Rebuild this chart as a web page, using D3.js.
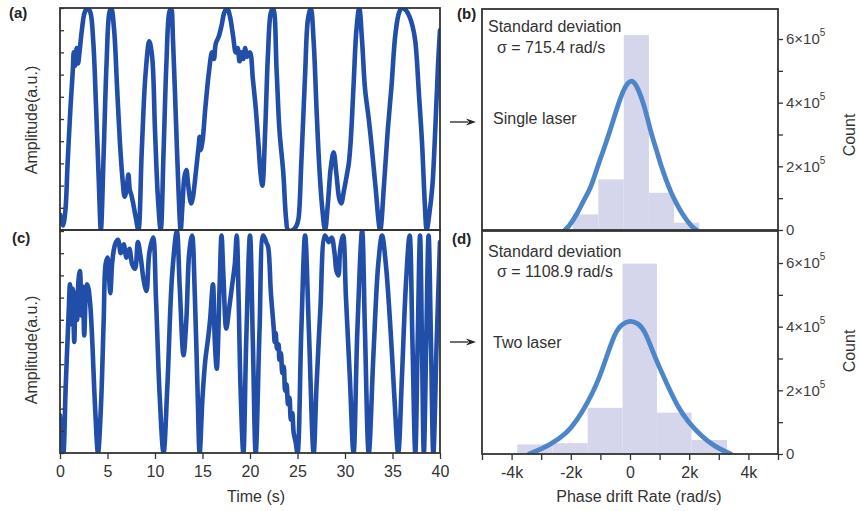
<!DOCTYPE html>
<html><head><meta charset="utf-8">
<script src="https://cdn.jsdelivr.net/npm/d3@7"></script>
<style>body{margin:0;background:#fff} text{font-family:"Liberation Sans",Arial,sans-serif;fill:#333}</style>
</head><body><svg id="chart" width="859" height="511"></svg>
<script>
// ---- (a) single laser interference trace ----
const timeA = [0,0.3,0.55,0.8,1.1,1.35,1.45,1.6,1.75,1.9,2.05,2.3,2.6,2.9,3.2,3.5,3.8,4.1,4.3,4.6,4.9,5.2,5.4,5.7,6.0,6.3,6.6,6.8,7.0,7.2,7.35,7.5,7.7,8.0,8.25,8.6,9.0,9.4,9.7,10.0,10.3,10.6,10.9,11.2,11.5,11.7,11.9,12.2,12.5,12.7,12.9,13.1,13.3,13.5,13.8,14.0,14.2,14.4,14.6,14.7,14.8,15.0,15.3,15.7,16.0,16.2,16.4,16.7,17.0,17.3,17.6,17.9,18.2,18.5,18.7,18.9,19.1,19.3,19.5,19.7,20.0,20.3,20.6,20.9,21.1,21.3,21.6,21.9,22.2,22.45,22.8,23.1,23.5,23.8,24.0,24.5,24.9,25.1,25.4,25.8,26.1,26.4,26.7,27.0,27.3,27.6,27.9,28.2,28.5,28.8,29.1,29.4,29.6,29.9,30.2,30.4,30.6,30.9,31.2,31.5,31.8,32.1,32.5,32.8,33.2,33.7,34.1,34.5,34.9,35.3,35.7,36.0,36.4,36.8,37.1,37.4,37.8,38.1,38.4,38.6,38.9,39.2,39.5,39.8,40.0];
const ampA  = [0.07,0.02,0.08,0.30,0.55,0.72,0.80,0.74,0.82,0.75,0.80,0.90,0.98,1.0,0.98,0.85,0.55,0.20,0.0,0.35,0.75,0.98,1.0,0.90,0.65,0.40,0.22,0.15,0.18,0.25,0.18,0.16,0.12,0.05,0.0,0.35,0.70,0.85,0.78,0.45,0.15,0.0,0.35,0.75,0.98,1.0,0.85,0.50,0.15,0.0,0.12,0.24,0.27,0.20,0.12,0.15,0.22,0.30,0.38,0.42,0.36,0.40,0.55,0.72,0.80,0.77,0.84,0.87,0.92,0.98,1.0,0.96,0.88,0.80,0.82,0.76,0.80,0.77,0.82,0.78,0.80,0.68,0.55,0.38,0.26,0.20,0.45,0.80,0.98,1.0,0.72,0.45,0.26,0.05,0.0,0.0,0.02,0.05,0.30,0.70,0.95,1.0,0.85,0.55,0.28,0.10,0.0,0.12,0.28,0.35,0.25,0.14,0.12,0.18,0.25,0.30,0.40,0.65,0.90,1.0,0.85,0.64,0.50,0.38,0.20,0.0,0.20,0.45,0.65,0.88,0.98,1.0,0.99,0.96,0.92,0.85,0.60,0.40,0.12,0.0,0.08,0.20,0.45,0.75,0.90];

// ---- (c) two laser interference trace ----
const timeC = [0,0.2,0.35,0.6,0.9,1.05,1.2,1.35,1.5,1.65,1.8,1.95,2.1,2.25,2.4,2.55,2.7,2.85,3.0,3.2,3.4,3.7,4.0,4.3,4.6,4.8,5.0,5.15,5.3,5.5,5.8,6.1,6.4,6.7,7.0,7.3,7.6,7.9,8.2,8.5,8.8,9.1,9.4,9.8,10.1,10.5,10.9,11.3,11.8,12.3,12.6,13.0,13.3,13.6,13.9,14.2,14.5,14.7,15.0,15.3,15.6,15.8,16.1,16.3,16.5,16.8,17.0,17.2,17.5,17.8,18.1,18.4,18.6,18.8,19.0,19.3,19.6,20.0,20.3,20.6,21.0,21.4,21.7,21.9,22.2,22.5,22.6,22.7,22.85,23.0,23.1,23.25,23.4,23.55,23.7,23.85,24.0,24.15,24.3,24.45,24.6,24.8,25.0,25.4,25.8,26.2,26.7,27.0,27.4,27.9,28.3,28.6,28.9,29.1,29.3,29.5,29.8,30.1,30.5,30.9,31.3,31.8,32.1,32.5,33.0,33.5,33.9,34.3,34.8,35.2,35.6,36.0,36.4,36.8,37.1,37.4,37.65,37.9,38.1,38.3,38.55,38.8,39.05,39.3,39.65,40.0];
const ampC  = [0.17,0.05,0.0,0.30,0.62,0.76,0.58,0.74,0.50,0.72,0.60,0.78,0.82,0.62,0.75,0.53,0.70,0.76,0.74,0.66,0.50,0.20,0.0,0.20,0.60,0.85,0.88,0.80,0.72,0.86,0.94,0.96,0.90,0.94,0.88,0.92,0.85,0.83,0.95,0.88,0.78,0.73,0.90,0.97,0.70,0.25,0.0,0.30,0.80,1.0,0.75,0.44,0.60,0.90,0.98,0.70,0.25,0.0,0.25,0.42,0.52,0.60,0.76,0.50,0.38,0.75,0.98,0.80,0.56,0.65,0.75,0.85,0.98,0.70,0.30,0.0,0.50,0.98,0.50,0.0,0.55,0.98,0.95,0.93,0.72,0.56,0.50,0.54,0.47,0.49,0.42,0.45,0.36,0.39,0.28,0.31,0.22,0.25,0.15,0.18,0.09,0.05,0.0,0.55,0.98,0.55,0.0,0.30,0.64,0.98,0.95,0.97,0.90,0.82,0.80,0.92,0.98,0.70,0.35,0.0,0.55,1.0,0.55,0.0,0.45,0.85,0.98,0.85,0.55,0.25,0.0,0.35,0.75,0.98,0.50,0.0,0.50,0.98,0.50,0.0,0.50,0.98,0.50,0.0,0.50,0.95];

// ---- (b) histogram + fit (single laser) ----
const binEdgesB = [-2780,-1930,-1070,-210,640,1490,2340];
const countsB   = [1000,49000,159000,612000,117000,23000];
const fitRateB  = [-2200,-2070,-1800,-1560,-1330,-1100,-900,-710,-530,-360,-150,30,200,430,580,720,900,1060,1250,1400,1510,1740,2080,2250];
const fitCountB = [0,10000,48000,94000,130000,198000,250000,302000,355000,406000,455000,472000,460000,406000,355000,302000,250000,198000,150000,115000,94000,53000,10000,0];

// ---- (d) histogram + fit (two laser) ----
const binEdgesD = [-3810,-2620,-1430,-250,910,2080,3280];
const countsD   = [30000,34000,145000,598000,130000,44000];
const fitRateD  = [-3400,-2700,-2130,-1790,-1450,-1110,-830,-500,-250,0,250,500,880,1270,1610,1960,2410,2860,3400];
const fitCountD = [0,28000,65000,106000,158000,221000,294000,385000,410000,419000,412000,390000,294000,216000,148000,101000,56000,23000,0];

// ---- ticks ----
const timeTicks  = [0,5,10,15,20,25,30,35,40];
const ampTicks   = [0,0.1,0.2,0.3,0.4,0.5,0.6,0.7,0.8,0.9,1.0];
const rateTicks  = [-5000,-4000,-3000,-2000,-1000,0,1000,2000,3000,4000,5000];
const rateLabels = {"-4000":"-4k","-2000":"-2k","0":"0","2000":"2k","4000":"4k"};
const countTicks = [0,100000,200000,300000,400000,500000,600000];
const countLabels = [[0,"0",""],[200000,"2×10","5"],[400000,"4×10","5"],[600000,"6×10","5"]];

const svg = d3.select("#chart");
const frameColor = "#333";
const traceColor = "#214ea8";
const barColor = "#d5d5ec";
const fitColor = "#4d86c8";
const FS = 16;

const x = d3.scaleLinear([0,40],[60,440]);
const yA = d3.scaleLinear([0,1],[230,8]);
const yC = d3.scaleLinear([0,1],[453,231]);
const xR = d3.scaleLinear([-5000,5000],[482,778]);
const yB = d3.scaleLinear([0,600000],[230,39]);
const yD = d3.scaleLinear([0,600000],[454,263]);

const defs = svg.append("defs");
function clip(id,x0,y0,x1,y1){
  defs.append("clipPath").attr("id",id).append("rect").attr("x",x0).attr("y",y0).attr("width",x1-x0).attr("height",y1-y0);
}
clip("cA",60,8,440,230); clip("cC",60,230,440,453);
clip("cB",482,9,778,230); clip("cD",482,231,778,454);

function trace(times,amps,ys,cid){
  const pts = times.map((t,i)=>[t,amps[i]]);
  svg.append("path").attr("clip-path",`url(#${cid})`)
    .attr("d", d3.line().x(d=>x(d[0])).y(d=>ys(d[1])).curve(d3.curveCatmullRom.alpha(0.5))(pts))
    .attr("fill","none").attr("stroke",traceColor).attr("stroke-width",4.6)
    .attr("stroke-linejoin","round").attr("stroke-linecap","round");
}
trace(timeA,ampA,yA,"cA");
trace(timeC,ampC,yC,"cC");

function hist(edges,counts,ys,cid,rates,fits){
  const g = svg.append("g").attr("clip-path",`url(#${cid})`);
  g.selectAll("rect").data(counts).join("rect")
    .attr("x",(d,i)=>xR(edges[i])).attr("width",(d,i)=>xR(edges[i+1])-xR(edges[i]))
    .attr("y",d=>ys(d)).attr("height",d=>ys(0)-ys(d)).attr("fill",barColor);
  const pts = rates.map((r,i)=>[r,fits[i]]);
  g.append("path").attr("d", d3.line().x(d=>xR(d[0])).y(d=>ys(d[1])).curve(d3.curveBasis)(pts))
    .attr("fill","none").attr("stroke",fitColor).attr("stroke-width",4.8).attr("stroke-linecap","round");
}
hist(binEdgesB,countsB,yB,"cB",fitRateB,fitCountB);
hist(binEdgesD,countsD,yD,"cD",fitRateD,fitCountD);

function styleAxis(g){ g.select(".domain").remove(); g.selectAll("line").attr("stroke",frameColor).attr("stroke-width",1.3);
  g.selectAll("text").attr("font-size",FS).attr("fill","#404040").attr("font-family","Liberation Sans, Arial, sans-serif"); }
svg.append("g").attr("transform","translate(60,0)").call(d3.axisLeft(yA).tickValues(ampTicks).tickSize(-4).tickFormat("")).call(styleAxis);
svg.append("g").attr("transform","translate(60,0)").call(d3.axisLeft(yC).tickValues(ampTicks).tickSize(-4).tickFormat("")).call(styleAxis);
svg.append("g").attr("transform","translate(0,453)").call(d3.axisBottom(x).tickValues(timeTicks).tickSize(6).tickPadding(7)).call(styleAxis);

svg.append("g").attr("transform","translate(778,0)").call(d3.axisRight(yB).tickValues(countTicks).tickSize(5).tickFormat("")).call(styleAxis);
svg.append("g").attr("transform","translate(778,0)").call(d3.axisRight(yD).tickValues(countTicks).tickSize(5).tickFormat("")).call(styleAxis);
svg.append("g").attr("transform","translate(0,454)").call(d3.axisBottom(xR).tickValues(rateTicks).tickSize(6).tickPadding(7).tickFormat(d=>rateLabels[String(d)]||"")).call(styleAxis);

function countText(ys){
  countLabels.forEach(([v,base,sup])=>{
    const t = svg.append("text").attr("x",786).attr("y",ys(v)).attr("dy","0.35em").attr("font-size",FS-1).style("fill","#404040");
    t.append("tspan").text(base);
    if(sup) t.append("tspan").attr("font-size",10).attr("dy","-0.8em").text(sup);
  });
}
countText(yB); countText(yD);

function frame(x0,y0,x1,y1){
  svg.append("rect").attr("x",x0).attr("y",y0).attr("width",x1-x0).attr("height",y1-y0)
    .attr("fill","none").attr("stroke",frameColor).attr("stroke-width",1.8);
}
frame(60,8,440,230); frame(60,230,440,453);
frame(482,9,778,230); frame(482,231,778,454);

function txt(s,xx,yy,opt={}){
  const t = svg.append("text").attr("x",xx).attr("y",yy).attr("font-size",opt.size||FS).text(s);
  if(opt.bold) t.attr("font-weight","bold").style("fill","#222");
  if(opt.anchor) t.attr("text-anchor",opt.anchor);
  if(opt.rot!==undefined) t.attr("x",0).attr("y",0).attr("transform",`translate(${xx},${yy}) rotate(${opt.rot})`);
  return t;
}
txt("(a)",9,18,{bold:true,size:15}); txt("(c)",12,243,{bold:true,size:15});
txt("(b)",457,19,{bold:true,size:15}); txt("(d)",452,244,{bold:true,size:15});
txt("Amplitude(a.u.)",37,120,{anchor:"middle",rot:-90});
txt("Amplitude(a.u.)",37,350,{anchor:"middle",rot:-90});
txt("Time (s)",256,502,{anchor:"middle"});
txt("Phase drift Rate (rad/s)",639,502,{anchor:"middle"});
txt("Count",855,135,{anchor:"middle",rot:-90});
txt("Count",855,351,{anchor:"middle",rot:-90});
txt("Standard deviation",488,32);
txt("σ = 715.4 rad/s",497,53);
txt("Single laser",493,124);
txt("Standard deviation",488,257);
txt("σ = 1108.9 rad/s",497,277);
txt("Two laser",493,348);

function arrow(x0,x1,yy){
  svg.append("line").attr("x1",x0).attr("x2",x1-8).attr("y1",yy).attr("y2",yy).attr("stroke","#222").attr("stroke-width",1.3);
  svg.append("path").attr("d",`M${x1},${yy} L${x1-10},${yy-3.5} L${x1-7},${yy} L${x1-10},${yy+3.5} Z`).attr("fill","#222");
}
arrow(450,476,122); arrow(450,476,342);
</script></body></html>
